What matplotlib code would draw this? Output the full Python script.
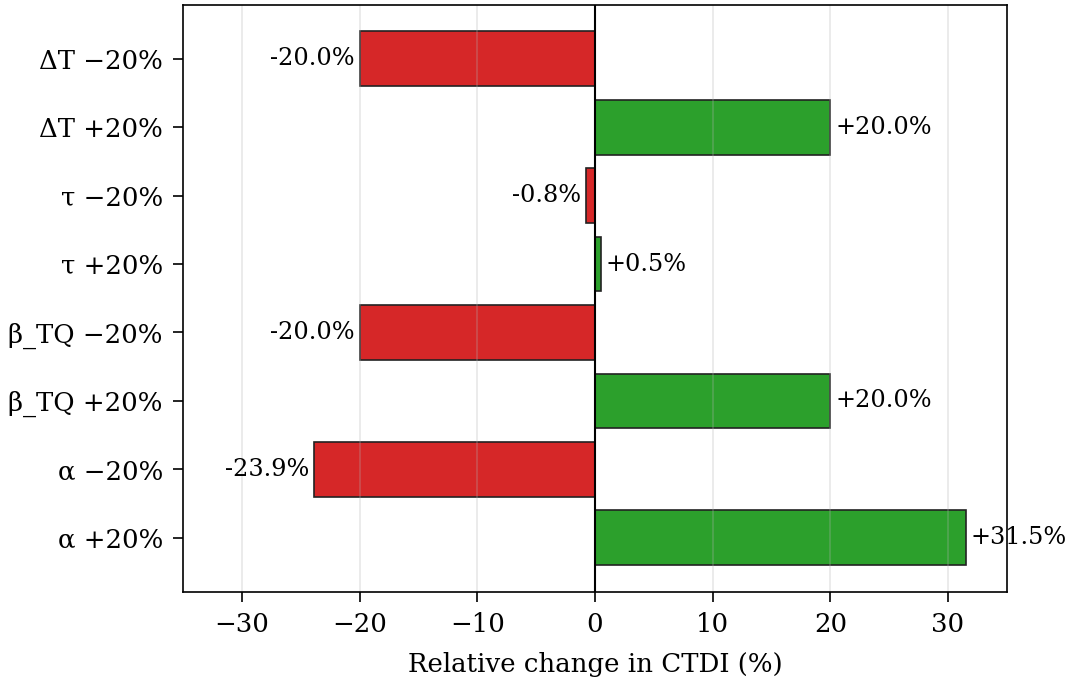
import matplotlib
matplotlib.use('Agg')
import matplotlib.pyplot as plt

plt.rcParams['font.family'] = 'DejaVu Serif'

# 파라미터 민감도 데이터 (아래에서 위로)
labels = ['α +20%', 'α −20%', 'β_TQ +20%', 'β_TQ −20%',
          'τ +20%', 'τ −20%', 'ΔT +20%', 'ΔT −20%']
values = [31.5, -23.9, 20.0, -20.0, 0.5, -0.8, 20.0, -20.0]

colors = ['#2ca02c' if v > 0 else '#d62728' for v in values]

fig, ax = plt.subplots(figsize=(1078 / 150, 681 / 150), dpi=150)
fig.subplots_adjust(left=0.170, right=0.934, top=0.993, bottom=0.131)

ypos = list(range(len(labels)))
ax.barh(ypos, values, height=0.8, color=colors, edgecolor='#222222', linewidth=0.8)
ax.axvline(0, color='black', linewidth=1.0)

# 막대 끝에 값 표시
for y, v in zip(ypos, values):
    if v >= 0:
        ax.text(v + 0.4, y, '+%.1f%%' % v, ha='left', va='center', fontsize=11.5)
    else:
        ax.text(v - 0.4, y, '%.1f%%' % v, ha='right', va='center', fontsize=11.5)

ax.set_yticks(ypos)
ax.set_yticklabels(labels)
ax.set_xlim(-35, 35)
ax.tick_params(labelsize=12.5, length=5, pad=4.8)
ax.set_xlabel('Relative change in CTDI (%)', fontsize=12.5, labelpad=7)
ax.grid(axis='x', alpha=0.3)

fig.savefig('out.png', dpi=150)
